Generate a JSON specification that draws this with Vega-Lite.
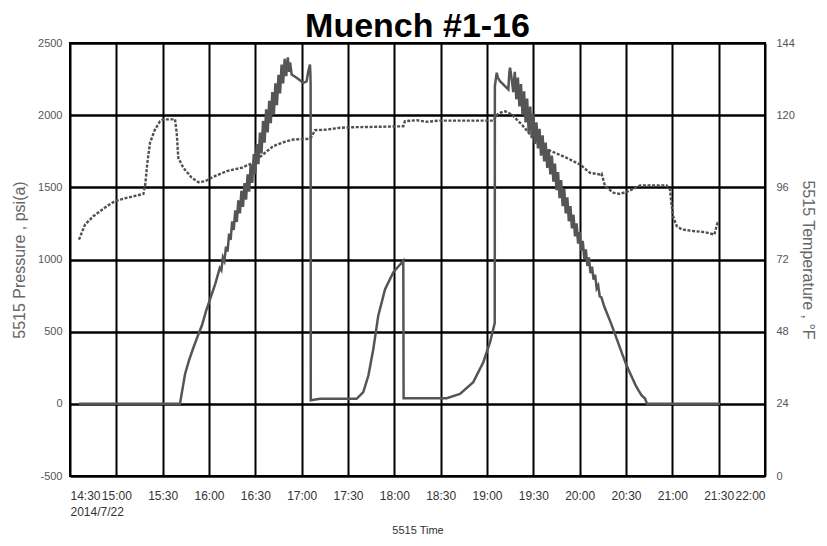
{
  "$schema": "https://vega.github.io/schema/vega-lite/v6.json",
  "width": 695,
  "height": 433,
  "autosize": "none",
  "padding": {"left": 70, "top": 43, "right": 62, "bottom": 70},
  "background": "white",
  "title": {"text": "Muench #1-16", "font": "Liberation Sans", "fontSize": 34, "fontWeight": "bold", "color": "black", "anchor": "middle", "offset": -7},
  "config": {
    "view": {"stroke": "black", "strokeWidth": 2},
    "axis": {
      "ticks": false,
      "domain": false,
      "labelFont": "Liberation Sans",
      "labelFontSize": 11,
      "labelColor": "#555555",
      "titleFont": "Liberation Sans",
      "titleFontSize": 16,
      "titleFontWeight": "normal",
      "titleColor": "#666666",
      "gridColor": "black",
      "gridOpacity": 1
    }
  },
  "datasets": {
    "temperature": [
      {"time": "2014-07-22T14:35:48", "degF": 78.6},
      {"time": "2014-07-22T14:39:42", "degF": 83.6},
      {"time": "2014-07-22T14:45:06", "degF": 86.4},
      {"time": "2014-07-22T14:53:48", "degF": 89.7},
      {"time": "2014-07-22T14:59:06", "degF": 91.4},
      {"time": "2014-07-22T15:06:42", "degF": 92.5},
      {"time": "2014-07-22T15:17:30", "degF": 93.8},
      {"time": "2014-07-22T15:18:36", "degF": 96.4},
      {"time": "2014-07-22T15:20:06", "degF": 104.2},
      {"time": "2014-07-22T15:21:48", "degF": 110.8},
      {"time": "2014-07-22T15:25:00", "degF": 115.2},
      {"time": "2014-07-22T15:28:18", "degF": 118.0},
      {"time": "2014-07-22T15:30:24", "degF": 118.6},
      {"time": "2014-07-22T15:38:00", "degF": 118.6},
      {"time": "2014-07-22T15:39:06", "degF": 114.1},
      {"time": "2014-07-22T15:40:06", "degF": 105.8},
      {"time": "2014-07-22T15:43:24", "degF": 102.5},
      {"time": "2014-07-22T15:48:48", "degF": 99.2},
      {"time": "2014-07-22T15:53:06", "degF": 97.7},
      {"time": "2014-07-22T15:57:24", "degF": 98.0},
      {"time": "2014-07-22T16:02:48", "degF": 99.5},
      {"time": "2014-07-22T16:11:30", "degF": 101.4},
      {"time": "2014-07-22T16:21:12", "degF": 102.5},
      {"time": "2014-07-22T16:28:42", "degF": 104.2},
      {"time": "2014-07-22T16:36:18", "degF": 107.5},
      {"time": "2014-07-22T16:41:36", "degF": 109.7},
      {"time": "2014-07-22T16:48:06", "degF": 111.0},
      {"time": "2014-07-22T16:54:36", "degF": 111.9},
      {"time": "2014-07-22T17:04:18", "degF": 112.1},
      {"time": "2014-07-22T17:06:24", "degF": 112.8},
      {"time": "2014-07-22T17:08:36", "degF": 115.0},
      {"time": "2014-07-22T17:16:06", "degF": 115.2},
      {"time": "2014-07-22T17:24:48", "degF": 115.8},
      {"time": "2014-07-22T17:33:24", "degF": 116.0},
      {"time": "2014-07-22T17:46:24", "degF": 116.1},
      {"time": "2014-07-22T18:05:48", "degF": 116.3},
      {"time": "2014-07-22T18:06:54", "degF": 118.0},
      {"time": "2014-07-22T18:14:30", "degF": 118.3},
      {"time": "2014-07-22T18:20:54", "degF": 117.8},
      {"time": "2014-07-22T18:29:36", "degF": 118.2},
      {"time": "2014-07-22T19:04:06", "degF": 118.2},
      {"time": "2014-07-22T19:07:18", "degF": 120.6},
      {"time": "2014-07-22T19:11:42", "degF": 121.3},
      {"time": "2014-07-22T19:16:00", "degF": 120.2},
      {"time": "2014-07-22T19:22:30", "degF": 116.9},
      {"time": "2014-07-22T19:28:54", "degF": 113.0},
      {"time": "2014-07-22T19:36:30", "degF": 109.1},
      {"time": "2014-07-22T19:44:00", "degF": 107.5},
      {"time": "2014-07-22T19:51:36", "degF": 105.8},
      {"time": "2014-07-22T20:00:12", "degF": 103.6},
      {"time": "2014-07-22T20:06:42", "degF": 100.8},
      {"time": "2014-07-22T20:13:12", "degF": 100.3},
      {"time": "2014-07-22T20:14:12", "degF": 100.6},
      {"time": "2014-07-22T20:16:24", "degF": 96.4},
      {"time": "2014-07-22T20:21:48", "degF": 94.2},
      {"time": "2014-07-22T20:26:06", "degF": 93.8},
      {"time": "2014-07-22T20:31:30", "degF": 94.7},
      {"time": "2014-07-22T20:39:06", "degF": 96.6},
      {"time": "2014-07-22T20:56:18", "degF": 96.6},
      {"time": "2014-07-22T20:58:30", "degF": 95.3},
      {"time": "2014-07-22T20:59:36", "degF": 89.7},
      {"time": "2014-07-22T21:00:42", "degF": 86.0},
      {"time": "2014-07-22T21:02:54", "degF": 83.1},
      {"time": "2014-07-22T21:06:00", "degF": 82.0},
      {"time": "2014-07-22T21:14:36", "degF": 81.4},
      {"time": "2014-07-22T21:21:06", "degF": 81.1},
      {"time": "2014-07-22T21:27:12", "degF": 80.3},
      {"time": "2014-07-22T21:29:18", "degF": 84.2},
      {"time": "2014-07-22T21:30:12", "degF": 84.5}
    ],
    "pressure": [
      {"time": "2014-07-22T14:35:48", "psi": 0},
      {"time": "2014-07-22T15:41:12", "psi": 0},
      {"time": "2014-07-22T15:44:30", "psi": 207},
      {"time": "2014-07-22T15:47:00", "psi": 300},
      {"time": "2014-07-22T15:49:36", "psi": 380},
      {"time": "2014-07-22T15:52:00", "psi": 450},
      {"time": "2014-07-22T15:55:30", "psi": 546},
      {"time": "2014-07-22T15:58:00", "psi": 640},
      {"time": "2014-07-22T16:00:42", "psi": 726},
      {"time": "2014-07-22T16:04:00", "psi": 830},
      {"time": "2014-07-22T16:07:00", "psi": 941},
      {"time": "2014-07-22T16:08:00", "psi": 925},
      {"time": "2014-07-22T16:09:00", "psi": 1015},
      {"time": "2014-07-22T16:10:00", "psi": 990},
      {"time": "2014-07-22T16:11:00", "psi": 1090},
      {"time": "2014-07-22T16:12:00", "psi": 1055},
      {"time": "2014-07-22T16:13:00", "psi": 1180},
      {"time": "2014-07-22T16:14:00", "psi": 1135},
      {"time": "2014-07-22T16:15:00", "psi": 1265},
      {"time": "2014-07-22T16:16:00", "psi": 1205},
      {"time": "2014-07-22T16:17:00", "psi": 1340},
      {"time": "2014-07-22T16:18:00", "psi": 1260},
      {"time": "2014-07-22T16:19:00", "psi": 1410},
      {"time": "2014-07-22T16:20:00", "psi": 1320},
      {"time": "2014-07-22T16:21:00", "psi": 1475},
      {"time": "2014-07-22T16:22:00", "psi": 1365},
      {"time": "2014-07-22T16:23:00", "psi": 1530},
      {"time": "2014-07-22T16:24:00", "psi": 1415},
      {"time": "2014-07-22T16:25:00", "psi": 1590},
      {"time": "2014-07-22T16:26:00", "psi": 1470},
      {"time": "2014-07-22T16:27:00", "psi": 1660},
      {"time": "2014-07-22T16:28:00", "psi": 1530},
      {"time": "2014-07-22T16:29:00", "psi": 1730},
      {"time": "2014-07-22T16:30:00", "psi": 1595},
      {"time": "2014-07-22T16:31:00", "psi": 1800},
      {"time": "2014-07-22T16:32:00", "psi": 1660},
      {"time": "2014-07-22T16:33:00", "psi": 1880},
      {"time": "2014-07-22T16:34:00", "psi": 1735},
      {"time": "2014-07-22T16:35:00", "psi": 1960},
      {"time": "2014-07-22T16:36:00", "psi": 1810},
      {"time": "2014-07-22T16:37:00", "psi": 2040},
      {"time": "2014-07-22T16:38:00", "psi": 1880},
      {"time": "2014-07-22T16:39:00", "psi": 2100},
      {"time": "2014-07-22T16:40:00", "psi": 1945},
      {"time": "2014-07-22T16:41:00", "psi": 2160},
      {"time": "2014-07-22T16:42:00", "psi": 2005},
      {"time": "2014-07-22T16:43:00", "psi": 2220},
      {"time": "2014-07-22T16:44:00", "psi": 2070},
      {"time": "2014-07-22T16:45:00", "psi": 2280},
      {"time": "2014-07-22T16:46:00", "psi": 2150},
      {"time": "2014-07-22T16:47:00", "psi": 2350},
      {"time": "2014-07-22T16:48:00", "psi": 2220},
      {"time": "2014-07-22T16:49:00", "psi": 2390},
      {"time": "2014-07-22T16:50:00", "psi": 2270},
      {"time": "2014-07-22T16:51:00", "psi": 2400},
      {"time": "2014-07-22T16:52:00", "psi": 2300},
      {"time": "2014-07-22T16:52:30", "psi": 2365},
      {"time": "2014-07-22T16:53:30", "psi": 2282},
      {"time": "2014-07-22T16:56:42", "psi": 2259},
      {"time": "2014-07-22T17:01:06", "psi": 2224},
      {"time": "2014-07-22T17:03:12", "psi": 2234},
      {"time": "2014-07-22T17:04:18", "psi": 2305},
      {"time": "2014-07-22T17:05:24", "psi": 2351},
      {"time": "2014-07-22T17:05:36", "psi": 2300},
      {"time": "2014-07-22T17:05:48", "psi": 2220},
      {"time": "2014-07-22T17:05:54", "psi": 25},
      {"time": "2014-07-22T17:11:54", "psi": 35},
      {"time": "2014-07-22T17:35:36", "psi": 35},
      {"time": "2014-07-22T17:39:54", "psi": 81},
      {"time": "2014-07-22T17:43:12", "psi": 196},
      {"time": "2014-07-22T17:46:24", "psi": 380},
      {"time": "2014-07-22T17:49:36", "psi": 611},
      {"time": "2014-07-22T17:54:00", "psi": 795},
      {"time": "2014-07-22T17:59:18", "psi": 911},
      {"time": "2014-07-22T18:05:48", "psi": 991},
      {"time": "2014-07-22T18:06:00", "psi": 39},
      {"time": "2014-07-22T18:33:54", "psi": 39},
      {"time": "2014-07-22T18:42:30", "psi": 69},
      {"time": "2014-07-22T18:51:06", "psi": 150},
      {"time": "2014-07-22T18:57:36", "psi": 288},
      {"time": "2014-07-22T19:02:00", "psi": 427},
      {"time": "2014-07-22T19:05:00", "psi": 560},
      {"time": "2014-07-22T19:05:06", "psi": 2201},
      {"time": "2014-07-22T19:06:18", "psi": 2294},
      {"time": "2014-07-22T19:07:00", "psi": 2260},
      {"time": "2014-07-22T19:08:24", "psi": 2236},
      {"time": "2014-07-22T19:13:48", "psi": 2178},
      {"time": "2014-07-22T19:14:30", "psi": 2300},
      {"time": "2014-07-22T19:14:54", "psi": 2329},
      {"time": "2014-07-22T19:15:30", "psi": 2290},
      {"time": "2014-07-22T19:16:00", "psi": 2250},
      {"time": "2014-07-22T19:17:00", "psi": 2160},
      {"time": "2014-07-22T19:18:00", "psi": 2300},
      {"time": "2014-07-22T19:19:00", "psi": 2110},
      {"time": "2014-07-22T19:20:00", "psi": 2260},
      {"time": "2014-07-22T19:21:00", "psi": 2060},
      {"time": "2014-07-22T19:22:00", "psi": 2215},
      {"time": "2014-07-22T19:23:00", "psi": 2000},
      {"time": "2014-07-22T19:24:00", "psi": 2165},
      {"time": "2014-07-22T19:25:00", "psi": 1950},
      {"time": "2014-07-22T19:26:00", "psi": 2115},
      {"time": "2014-07-22T19:27:00", "psi": 1880},
      {"time": "2014-07-22T19:28:00", "psi": 2060},
      {"time": "2014-07-22T19:29:00", "psi": 1840},
      {"time": "2014-07-22T19:30:00", "psi": 2010},
      {"time": "2014-07-22T19:31:00", "psi": 1800},
      {"time": "2014-07-22T19:32:00", "psi": 1950},
      {"time": "2014-07-22T19:33:00", "psi": 1770},
      {"time": "2014-07-22T19:34:00", "psi": 1905},
      {"time": "2014-07-22T19:35:00", "psi": 1720},
      {"time": "2014-07-22T19:36:00", "psi": 1860},
      {"time": "2014-07-22T19:37:00", "psi": 1680},
      {"time": "2014-07-22T19:38:00", "psi": 1810},
      {"time": "2014-07-22T19:39:00", "psi": 1635},
      {"time": "2014-07-22T19:40:00", "psi": 1765},
      {"time": "2014-07-22T19:41:00", "psi": 1590},
      {"time": "2014-07-22T19:42:00", "psi": 1720},
      {"time": "2014-07-22T19:43:00", "psi": 1540},
      {"time": "2014-07-22T19:44:00", "psi": 1665},
      {"time": "2014-07-22T19:45:00", "psi": 1480},
      {"time": "2014-07-22T19:46:00", "psi": 1605},
      {"time": "2014-07-22T19:47:00", "psi": 1425},
      {"time": "2014-07-22T19:48:00", "psi": 1550},
      {"time": "2014-07-22T19:49:00", "psi": 1370},
      {"time": "2014-07-22T19:50:00", "psi": 1490},
      {"time": "2014-07-22T19:51:00", "psi": 1320},
      {"time": "2014-07-22T19:52:00", "psi": 1430},
      {"time": "2014-07-22T19:53:00", "psi": 1265},
      {"time": "2014-07-22T19:54:00", "psi": 1370},
      {"time": "2014-07-22T19:55:00", "psi": 1215},
      {"time": "2014-07-22T19:56:00", "psi": 1310},
      {"time": "2014-07-22T19:57:00", "psi": 1160},
      {"time": "2014-07-22T19:58:00", "psi": 1250},
      {"time": "2014-07-22T19:59:00", "psi": 1110},
      {"time": "2014-07-22T20:00:00", "psi": 1190},
      {"time": "2014-07-22T20:01:00", "psi": 1060},
      {"time": "2014-07-22T20:02:00", "psi": 1130},
      {"time": "2014-07-22T20:03:00", "psi": 1005},
      {"time": "2014-07-22T20:04:00", "psi": 1070},
      {"time": "2014-07-22T20:05:00", "psi": 955},
      {"time": "2014-07-22T20:06:00", "psi": 1015},
      {"time": "2014-07-22T20:07:00", "psi": 905},
      {"time": "2014-07-22T20:08:00", "psi": 950},
      {"time": "2014-07-22T20:09:00", "psi": 860},
      {"time": "2014-07-22T20:10:00", "psi": 895},
      {"time": "2014-07-22T20:11:00", "psi": 800},
      {"time": "2014-07-22T20:12:00", "psi": 820},
      {"time": "2014-07-22T20:13:00", "psi": 745},
      {"time": "2014-07-22T20:14:00", "psi": 740},
      {"time": "2014-07-22T20:16:00", "psi": 672},
      {"time": "2014-07-22T20:18:00", "psi": 619},
      {"time": "2014-07-22T20:20:00", "psi": 566},
      {"time": "2014-07-22T20:22:00", "psi": 509},
      {"time": "2014-07-22T20:24:00", "psi": 450},
      {"time": "2014-07-22T20:26:00", "psi": 391},
      {"time": "2014-07-22T20:28:00", "psi": 332},
      {"time": "2014-07-22T20:30:00", "psi": 276},
      {"time": "2014-07-22T20:32:00", "psi": 228},
      {"time": "2014-07-22T20:34:00", "psi": 180},
      {"time": "2014-07-22T20:36:00", "psi": 133},
      {"time": "2014-07-22T20:38:00", "psi": 95},
      {"time": "2014-07-22T20:40:00", "psi": 60},
      {"time": "2014-07-22T20:42:24", "psi": 35},
      {"time": "2014-07-22T20:43:36", "psi": 0},
      {"time": "2014-07-22T21:30:54", "psi": 0}
    ]
  },
  "layer": [
    {
      "data": {"name": "temperature"},
      "mark": {"type": "line", "color": "#505050", "strokeWidth": 2.4, "strokeDash": [3, 1.6]},
      "encoding": {
        "x": {
          "field": "time", "type": "temporal",
          "scale": {"domain": [{"year": 2014, "month": 7, "date": 22, "hours": 14, "minutes": 30}, {"year": 2014, "month": 7, "date": 22, "hours": 22, "minutes": 0}]},
          "axis": {"title": "5515 Time", "titleFontSize": 11, "titleColor": "#333333", "tickCount": {"interval": "minutes", "step": 30}, "labelExpr": "hours(datum.value) == 14 && minutes(datum.value) == 30 ? ['14:30', '2014/7/22'] : timeFormat(datum.value, '%H:%M')", "labelFlush": true, "labelOverlap": false, "labelFontSize": 12, "labelPadding": 14, "labelLineHeight": 16, "labelColor": "#333333", "labelAngle": 0, "titlePadding": 7, "grid": true, "gridWidth": 2}
        },
        "y": {
          "field": "degF", "type": "quantitative",
          "scale": {"domain": [0, 144], "nice": false, "zero": false},
          "axis": {"orient": "right", "title": "5515 Temperature , °F", "values": [0, 24, 48, 72, 96, 120, 144], "labelExpr": "'' + datum.value", "grid": false, "labelPadding": 11, "titlePadding": 5}
        }
      }
    },
    {
      "data": {"name": "pressure"},
      "mark": {"type": "line", "color": "#555555", "strokeWidth": 2.5},
      "encoding": {
        "x": {
          "field": "time", "type": "temporal",
          "scale": {"domain": [{"year": 2014, "month": 7, "date": 22, "hours": 14, "minutes": 30}, {"year": 2014, "month": 7, "date": 22, "hours": 22, "minutes": 0}]},
          "axis": {"title": "5515 Time", "titleFontSize": 11, "titleColor": "#333333", "tickCount": {"interval": "minutes", "step": 30}, "labelExpr": "hours(datum.value) == 14 && minutes(datum.value) == 30 ? ['14:30', '2014/7/22'] : timeFormat(datum.value, '%H:%M')", "labelFlush": true, "labelOverlap": false, "labelFontSize": 12, "labelPadding": 14, "labelLineHeight": 16, "labelColor": "#333333", "labelAngle": 0, "titlePadding": 7, "grid": true, "gridWidth": 2}
        },
        "y": {
          "field": "psi", "type": "quantitative",
          "scale": {"domain": [-500, 2500], "nice": false, "zero": false},
          "axis": {"orient": "left", "title": "5515 Pressure , psi(a)", "values": [-500, 0, 500, 1000, 1500, 2000, 2500], "labelExpr": "'' + datum.value", "grid": true, "gridWidth": 2.5, "labelPadding": 8, "titlePadding": 10}
        }
      }
    }
  ],
  "resolve": {"scale": {"y": "independent"}}
}
